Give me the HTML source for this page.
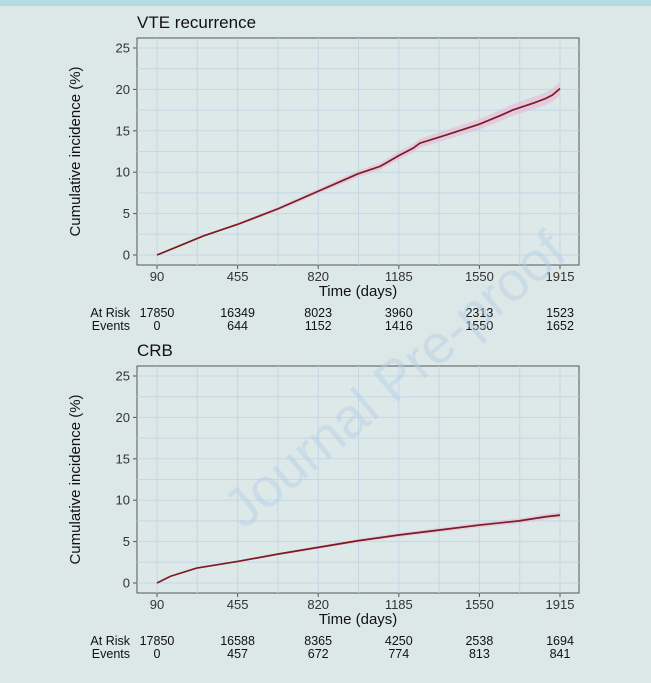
<!DOCTYPE html>
<html><head><meta charset="utf-8"><style>
body{margin:0;background:#dce7e7;}
svg{display:block;font-family:"Liberation Sans",sans-serif;}
</style></head><body>
<svg id="c" width="651" height="683">
<rect x="0" y="0" width="651" height="683" fill="#dce7e7"/>
<rect x="0" y="0" width="651" height="6" fill="#b5dbe3"/>
<g id="p1"></g>
<g id="p2"></g>
<text x="395" y="398" font-size="55" fill="#b3cfe6" opacity="0.45" text-anchor="middle" transform="rotate(-40 395 380)">Journal Pre-proof</text>
</svg>
<script>
const xTicks=[90,455,820,1185,1550,1915];
const yTicks=[0,5,10,15,20,25];
const vteDays=[90,200,300,455,640,820,1000,1100,1185,1250,1280,1400,1550,1650,1700,1800,1850,1880,1915];
const vteInc=[0,1.2,2.3,3.7,5.6,7.7,9.8,10.7,12,12.9,13.5,14.5,15.8,16.9,17.5,18.4,18.9,19.3,20.1];
const vteRisk=[17850,16349,8023,3960,2313,1523];
const vteEvents=[0,644,1152,1416,1550,1652];
const crbDays=[90,150,270,455,640,820,1000,1185,1370,1550,1730,1850,1915];
const crbInc=[0,0.8,1.8,2.6,3.5,4.3,5.1,5.8,6.4,7.0,7.5,8.0,8.2];
const crbRisk=[17850,16588,8365,4250,2538,1694];
const crbEvents=[0,457,672,774,813,841];
const NS="http://www.w3.org/2000/svg";
function mk(p,t,a,txt){const e=document.createElementNS(NS,t);for(const k in a)e.setAttribute(k,a[k]);if(txt!==undefined)e.textContent=txt;p.appendChild(e);return e;}
function panel(g,title,top,days,inc,risk,events){
  const L=137,R=579,bT=top,bB=top+227,y0=top+217,y25=top+10;
  const x=d=>157+(d-90)*(560-157)/1825;
  const y=v=>y0-v*(y0-y25)/25;
  let t=mk(g,'text',{x:L,y:bT-10,'font-size':17,fill:'#111'},title);
  
  
  mk(g,'rect',{x:L,y:bT,width:R-L,height:bB-bT,fill:'#dde8e9',stroke:'#555','stroke-width':1});
  for(let d=90-182.5;d<=1915+182.5;d+=182.5){if(x(d)>L&&x(d)<R)mk(g,'line',{x1:x(d),x2:x(d),y1:bT,y2:bB,stroke:'#c3d8e3','stroke-width':1});}
  for(let v=0;v<=27.5;v+=2.5){if(y(v)>bT)mk(g,'line',{x1:L,x2:R,y1:y(v),y2:y(v),stroke:'#c3d8e3','stroke-width':1});}
  yTicks.forEach(v=>{mk(g,'line',{x1:L-4,x2:L,y1:y(v),y2:y(v),stroke:'#555'});
    const e=mk(g,'text',{x:L-7,y:y(v)+4.5,'font-size':13,fill:'#333','text-anchor':'end'},v);
    
    });
  xTicks.forEach((d,i)=>{mk(g,'line',{x1:x(d),x2:x(d),y1:bB,y2:bB+4,stroke:'#555'});
    const e=mk(g,'text',{x:x(d),y:bB+16,'font-size':13,fill:'#333','text-anchor':'middle'},d);
    
    
    const r=mk(g,'text',{x:x(d),y:bB+52,'font-size':12.5,fill:'#111','text-anchor':'middle'},risk[i]);
    
    
    const ev=mk(g,'text',{x:x(d),y:bB+65,'font-size':12.5,fill:'#111','text-anchor':'middle'},events[i]);
    
    });
  const xt=mk(g,'text',{x:358,y:bB+31,'font-size':15,fill:'#111','text-anchor':'middle'},'Time (days)');
  
  
  const yt=mk(g,'text',{x:0,y:0,'font-size':15,fill:'#111','text-anchor':'middle',transform:`translate(80 ${(bT+bB)/2}) rotate(-90)`},'Cumulative incidence (%)');
  
  
  const a=mk(g,'text',{x:130,y:bB+52,'font-size':12.5,fill:'#111','text-anchor':'end'},'At Risk');
  
  
  const b=mk(g,'text',{x:130,y:bB+65,'font-size':12.5,fill:'#111','text-anchor':'end'},'Events');
  
  
  let up='',lo='';
  days.forEach((d,i)=>{up+=(i?'L':'M')+x(d)+' '+y(inc[i]*1.04);});
  for(let i=days.length-1;i>=0;i--)lo+='L'+x(days[i])+' '+y(inc[i]*0.96);
  const band=mk(g,'path',{d:up+lo+'Z',fill:'#e6b8d8',opacity:0.6});
  
  
  let p='';days.forEach((d,i)=>{p+=(i?'L':'M')+x(d)+' '+y(inc[i]);});
  const ln=mk(g,'path',{d:p,fill:'none',stroke:'#7d1b1f','stroke-width':1.7});
  
  
}
panel(document.getElementById('p1'),'VTE recurrence',38,vteDays,vteInc,vteRisk,vteEvents);
panel(document.getElementById('p2'),'CRB',366,crbDays,crbInc,crbRisk,crbEvents);
</script>
</body></html>
